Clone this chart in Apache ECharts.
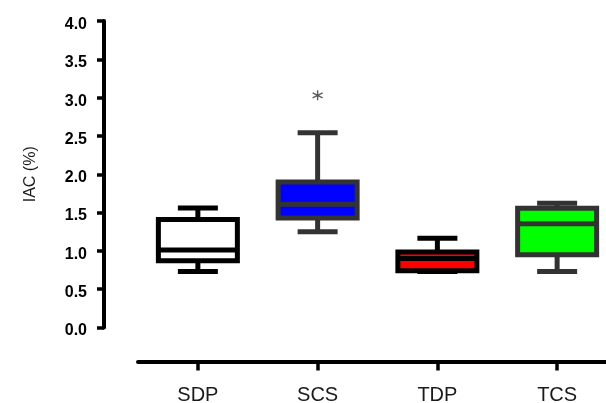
<!DOCTYPE html>
<html>
<head>
<meta charset="utf-8">
<script src="https://cdn.jsdelivr.net/npm/echarts@6/dist/echarts.min.js"></script>
<style>
  html, body { margin: 0; padding: 0; background: #fff; }
  #chart { width: 606px; height: 403px; }
</style>
</head>
<body>
<div id="chart"></div>
<script>
const categories = ["SDP", "SCS", "TDP", "TCS"];
const lowerWhisker = [0.73, 1.25, 0.73, 0.73];
const q1 = [0.87, 1.43, 0.74, 0.95];
const median = [1.01, 1.61, 0.90, 1.355];
const q3 = [1.41, 1.90, 0.985, 1.555];
const upperWhisker = [1.56, 2.54, 1.165, 1.62];
const outliers = [["SCS", 3.03]];
const yTicks = [0, 0.5, 1, 1.5, 2, 2.5, 3, 3.5, 4];

const fills = ["#ffffff", "#0000ff", "#ff0000", "#00ff00"];
const strokes = ["#000000", "#333333", "#000000", "#333333"];
const font = "Liberation Sans, Arial, sans-serif";

const boxData = categories.map((c, i) => [i, lowerWhisker[i], q1[i], median[i], q3[i], upperWhisker[i]]);

// prism style box: thick outline, short whisker caps
function renderBox(params, api) {
  const i = params.dataIndex;
  const x = api.coord([api.value(0), 0])[0];
  const y = (v) => api.coord([api.value(0), v])[1];
  const yLo = y(api.value(1)), yQ1 = y(api.value(2)), yMed = y(api.value(3));
  const yQ3 = y(api.value(4)), yHi = y(api.value(5));
  const half = 39.5, cap = 20;
  const line = () => ({ stroke: strokes[i], lineWidth: 5, lineCap: "butt" });
  return {
    type: "group",
    children: [
      { type: "line", shape: { x1: x, y1: yQ3, x2: x, y2: yHi }, style: line() },
      { type: "line", shape: { x1: x, y1: yQ1, x2: x, y2: yLo }, style: line() },
      { type: "rect", shape: { x: x - half, y: yQ3, width: half * 2, height: yQ1 - yQ3 },
        style: { fill: fills[i], stroke: strokes[i], lineWidth: 5 } },
      { type: "line", shape: { x1: x - half, y1: yMed, x2: x + half, y2: yMed }, style: line() },
      { type: "line", shape: { x1: x - cap, y1: yHi, x2: x + cap, y2: yHi }, style: line() },
      { type: "line", shape: { x1: x - cap, y1: yLo, x2: x + cap, y2: yLo }, style: line() },
    ],
  };
}

const chart = echarts.init(document.getElementById("chart"));
chart.setOption({
  animation: false,
  backgroundColor: "#fff",
  grid: { left: 138, right: -11, top: 21, bottom: 75.5, outerBoundsMode: "none" },
  xAxis: {
    type: "category",
    data: categories,
    offset: 34,
    axisLine: { show: true, onZero: false, lineStyle: { color: "#000", width: 4 } },
    axisTick: { show: true, alignWithLabel: true, length: 9, lineStyle: { color: "#000", width: 3.5 } },
    axisLabel: {
      margin: 27,
      color: "#1a1a1a",
      fontSize: 20,
      lineHeight: 14,
      fontFamily: font,
    },
    splitLine: { show: false },
  },
  yAxis: {
    type: "value",
    min: 0,
    max: 4,
    interval: 0.5,
    offset: 34,
    name: "IAC (%)",
    nameLocation: "middle",
    nameGap: 65,
    nameTextStyle: { color: "#1a1a1a", fontSize: 16, fontFamily: font },
    axisLine: { show: true, onZero: false, lineStyle: { color: "#000", width: 4 } },
    axisTick: { show: true, length: 7, lineStyle: { color: "#000", width: 3.5 } },
    axisLabel: {
      margin: 17,
      color: "#000",
      fontSize: 16,
      fontWeight: "bold",
      fontFamily: font,
      verticalAlign: "top",
      lineHeight: 7,
      formatter: (v) => (yTicks.includes(v) ? v.toFixed(1) : ""),
    },
    splitLine: { show: false },
  },
  series: [
    {
      type: "custom",
      data: boxData,
      encode: { x: 0, y: [1, 2, 3, 4, 5] },
      renderItem: renderBox,
      z: 2,
    },
    {
      type: "scatter",
      data: outliers,
      symbol: "path://M5 0L5 10M0.67 2.5L9.33 7.5M0.67 7.5L9.33 2.5",
      symbolSize: 10,
      itemStyle: { color: "rgba(0,0,0,0)", borderColor: "#333", borderWidth: 1.4 },
      z: 3,
    },
  ],
});
</script>
</body>
</html>
